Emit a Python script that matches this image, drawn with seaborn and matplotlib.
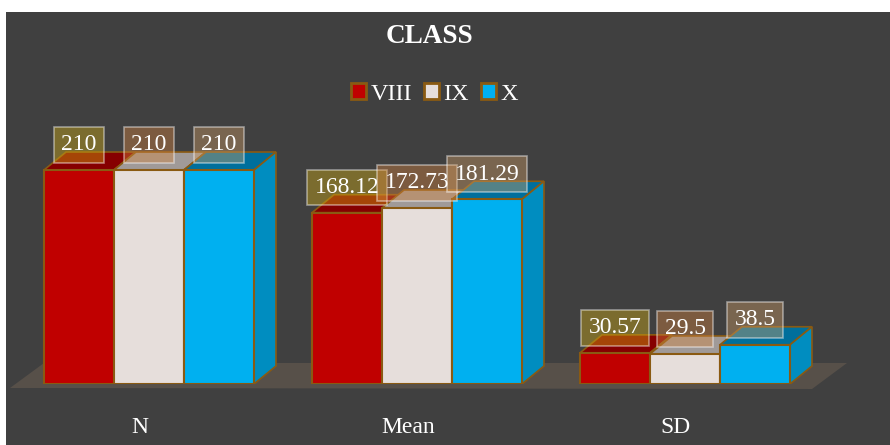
import matplotlib
matplotlib.use("Agg")
import matplotlib.pyplot as plt
import pandas as pd
import seaborn as sns
from matplotlib.colors import to_rgb
from matplotlib.patches import Polygon, Rectangle

categories = ["N", "Mean", "SD"]
classes = ["VIII", "IX", "X"]
viii_values = [210, 168.12, 30.57]
ix_values = [210, 172.73, 29.5]
x_values = [210, 181.29, 38.5]
value_labels = [["210", "168.12", "30.57"], ["210", "172.73", "29.5"], ["210", "181.29", "38.5"]]

front_colors = ["#C00000", "#E6DEDB", "#00B0F0"]
top_colors = ["#860000", "#A09A98", "#006F9C"]
side_colors = ["#900000", "#A8A29F", "#008DC0"]
label_fills = ["#D6AF14", "#D78640", "#D19F68"]
edge_color = "#8A5A12"
bg_color = "#404040"

# pixel layout of the picture
W, H = 890, 445
BASE_Y = 384
PX_PER_CAT = 268
PX_PER_UNIT = 1.019
DEPTH_X = 22 / PX_PER_CAT
DEPTH_Y = 18 / PX_PER_UNIT

df = pd.DataFrame({
    "cat": categories * 3,
    "cls": [c for c in classes for _ in categories],
    "value": viii_values + ix_values + x_values,
})

sns.set_theme(style="dark")
plt.rcParams["font.family"] = ["Liberation Serif", "DejaVu Serif"]

fig = plt.figure(figsize=(W / 100, H / 100), dpi=100, facecolor="white")
ax = fig.add_axes([0, (H - BASE_Y) / H, 1, BASE_Y / H])
ax.patch.set_alpha(0)

sns.barplot(data=df, x="cat", y="value", hue="cls", order=categories, hue_order=classes,
            palette=front_colors, saturation=1, width=210 / PX_PER_CAT, gap=0,
            edgecolor=edge_color, linewidth=1.5, errorbar=None, ax=ax, zorder=2)

ax.set_xlim(-149 / PX_PER_CAT, 741 / PX_PER_CAT)
ax.set_ylim(0, BASE_Y / PX_PER_UNIT)

# dark panel leaves a white strip on the left and top
fig.add_artist(Rectangle((6 / W, 0), 1 - 6 / W, 1 - 12 / H, transform=fig.transFigure,
                         facecolor=bg_color, edgecolor="none", zorder=-2))

# floor under the bars
floor = [(10, 388), (44, 363), (847, 363), (812, 389)]
fig.add_artist(Polygon([(x / W, 1 - y / H) for x, y in floor], closed=True,
                       transform=fig.transFigure, facecolor="#575049", edgecolor="none", zorder=-1))

# top and side faces taken from the bars seaborn drew
for i, container in enumerate(ax.containers):
    for bar in container:
        x0, x1, h = bar.get_x(), bar.get_x() + bar.get_width(), bar.get_height()
        ax.add_patch(Polygon([(x0, h), (x1, h), (x1 + DEPTH_X, h + DEPTH_Y), (x0 + DEPTH_X, h + DEPTH_Y)],
                             facecolor=top_colors[i], edgecolor=edge_color, linewidth=1.2, zorder=1))
        ax.add_patch(Polygon([(x1, 0), (x1 + DEPTH_X, DEPTH_Y), (x1 + DEPTH_X, h + DEPTH_Y), (x1, h)],
                             facecolor=side_colors[i], edgecolor=edge_color, linewidth=1.2, zorder=1))
    ax.bar_label(container, labels=value_labels[i], padding=10.5, fontsize=17, color="white",
                 zorder=5, bbox=dict(boxstyle="square,pad=0.31", facecolor=(*to_rgb(label_fills[i]), 0.4),
                                     edgecolor=(1, 1, 1, 0.45), linewidth=1.2))

ax.set_xticks([i - 9 / PX_PER_CAT for i in range(3)])
ax.set_xticklabels(categories, fontsize=17, color="white")
ax.tick_params(axis="x", length=0, pad=23.5)
ax.set_yticks([])
ax.set_xlabel("")
ax.set_ylabel("")
sns.despine(ax=ax, left=True, bottom=True)

fig.text(429 / W, 1 - 36.5 / H, "CLASS", ha="center", va="center", fontsize=19.5,
         fontweight="bold", color="white")

handles, labels = ax.get_legend_handles_labels()
leg = ax.legend(handles, labels, ncol=3, frameon=False, fontsize=17.5, labelcolor="white",
                loc="center", bbox_to_anchor=(434.5 / W, 1 - 94 / H), bbox_transform=fig.transFigure,
                handlelength=0.6, handleheight=0.6, handletextpad=0.2, columnspacing=0.5,
                borderpad=0, borderaxespad=0)
for handle in leg.get_patches():
    handle.set_linewidth(2)

fig.savefig("out.png", dpi=100, facecolor="white")
